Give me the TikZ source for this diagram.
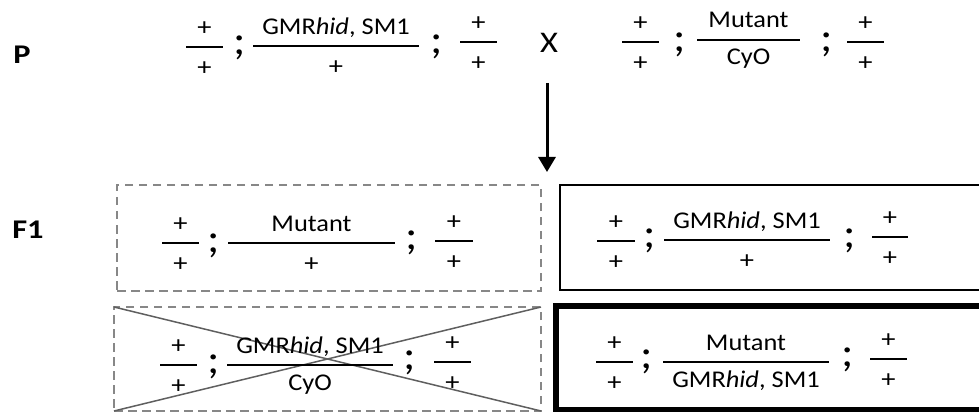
\documentclass[tikz,border=0pt]{standalone}
\usepackage{graphicx}
\usepackage{fontspec}
\setmainfont{Carlito}
\usetikzlibrary{arrows.meta}

\definecolor{dashgray}{RGB}{135,135,135}
\definecolor{crossgray}{RGB}{95,95,95}

% widened glyphs
\newcommand\wid[2][1.1]{\scalebox{#1}[1]{#2}}

\tikzset{
  word/.style={font=\fontsize{24}{28}\selectfont, inner sep=0pt, anchor=base},
  plussign/.style={font=\fontsize{25}{29}\selectfont, inner sep=0pt, anchor=center},
  semi/.style={font=\fontsize{42}{46}\selectfont, inner sep=0pt, anchor=center},
  genlabel/.style={font=\fontsize{27}{31}\selectfont\bfseries, inner sep=0pt, anchor=center},
  crosssign/.style={font=\fontsize{30}{34}\selectfont, inner sep=0pt, anchor=center},
  fracbar/.style={line width=2.6pt},
  dashbox/.style={draw=dashgray, line width=2.2pt, dash pattern=on 8.5pt off 5.5pt, inner sep=0pt, outer sep=0pt},
  solidbox/.style={draw=black, line width=2pt, inner sep=0pt, outer sep=0pt},
  heavybox/.style={draw=black, line width=5.5pt, inner sep=0pt, outer sep=0pt},
  strike/.style={draw=crossgray, line width=1.5pt},
  cross arrow/.style={line width=3pt, -{Triangle[width=17pt,length=15pt]}},
}

% + over + : name, left x, right x, bar y
\newcommand\plusfrac[4]{%
  \coordinate (#1-l) at (#2,#4);
  \coordinate (#1-r) at (#3,#4);
  \draw[fracbar] (#1-l) -- (#1-r);
  \node[plussign] (#1-n) at ({(#2+#3)/2},{#4-18}) {\wid[1.14]{+}};
  \node[plussign] (#1-d) at ({(#2+#3)/2},{#4+21.5}) {\wid[1.14]{+}};
}
% word over + : name, left x, right x, bar y, numerator
\newcommand\wordplusfrac[5]{%
  \coordinate (#1-l) at (#2,#4);
  \coordinate (#1-r) at (#3,#4);
  \draw[fracbar] (#1-l) -- (#1-r);
  \node[word] (#1-n) at ({(#2+#3)/2},{#4-11.5}) {\wid{#5}};
  \node[plussign] (#1-d) at ({(#2+#3)/2},{#4+21.5}) {\wid[1.14]{+}};
}
% word over word : name, left x, right x, bar y, numerator, denominator
\newcommand\wordfrac[6]{%
  \coordinate (#1-l) at (#2,#4);
  \coordinate (#1-r) at (#3,#4);
  \draw[fracbar] (#1-l) -- (#1-r);
  \node[word] (#1-n) at ({(#2+#3)/2},{#4-12}) {\wid{#5}};
  \node[word] (#1-d) at ({(#2+#3)/2},{#4+25}) {\wid{#6}};
}
% semicolon : name, x, y
\newcommand\semicol[3]{\node[semi] (#1) at (#2,#3) {\wid{;}};}

\newcommand\GMR{GMR\textit{hid}, SM1}

\begin{document}
\begin{tikzpicture}[x=1pt, y=-1pt]
\useasboundingbox (0,0) rectangle (979,414);
\clip (0,0) rectangle (979,414);

% generation labels
\node[genlabel] (P) at (22,55) {\wid[1.2]{P}};
\node[genlabel] (F1) at (28,229.5) {\wid[1.2]{F1}};

% parental cross
\plusfrac{pa1}{186}{223}{47}
\semicol{pas1}{240}{48}
\wordplusfrac{pa2}{253}{419}{46}{\GMR}
\semicol{pas2}{437}{47}
\plusfrac{pa3}{460}{497}{42}

\node[crosssign] (X) at (549,42.5) {\wid[1.15]{X}};

\plusfrac{pb1}{622}{659}{42}
\semicol{pbs1}{680}{45}
\wordfrac{pb2}{697}{800}{40}{Mutant}{CyO}
\semicol{pbs2}{827}{45}
\plusfrac{pb3}{847}{884}{42}

% arrow down to the progeny
\coordinate (arrtop) at (547,83);
\coordinate (arrtip) at (547,172);
\draw[cross arrow] (arrtop) -- (arrtip);

% progeny boxes
\node[dashbox, minimum width=424pt, minimum height=106pt] (boxA) at (329,238) {};
\node[dashbox, minimum width=427pt, minimum height=104pt] (boxB) at (327.5,359) {};
\node[solidbox, minimum width=440.5pt, minimum height=105pt] (boxC) at (779.75,237.5) {};
\node[heavybox, minimum width=444pt, minimum height=103.5pt] (boxD) at (778,357.75) {};

% lethal class struck out
\draw[strike] (boxB.north west) -- (boxB.south east);
\draw[strike] (boxB.south west) -- (boxB.north east);

% F1 genotypes
\plusfrac{fa1}{162}{199}{243}
\semicol{fas1}{214}{246}
\wordplusfrac{fa2}{228}{395}{243}{Mutant}
\semicol{fas2}{412}{243}
\plusfrac{fa3}{435}{473}{241}

\plusfrac{fb1}{160}{197}{365}
\semicol{fbs1}{214}{367}
\wordfrac{fb2}{227}{393}{365}{\GMR}{CyO}
\semicol{fbs2}{410}{363}
\plusfrac{fb3}{434}{471}{362}

\plusfrac{fc1}{597}{635}{241}
\semicol{fcs1}{650}{241}
\wordplusfrac{fc2}{664}{830}{240}{\GMR}
\semicol{fcs2}{850}{241}
\plusfrac{fc3}{872}{908}{237}

\plusfrac{fd1}{596}{633}{362}
\semicol{fds1}{647}{362}
\wordfrac{fd2}{663}{829}{362}{Mutant}{\GMR}
\semicol{fds2}{848}{360}
\plusfrac{fd3}{870}{907}{359}
\end{tikzpicture}
\end{document}
